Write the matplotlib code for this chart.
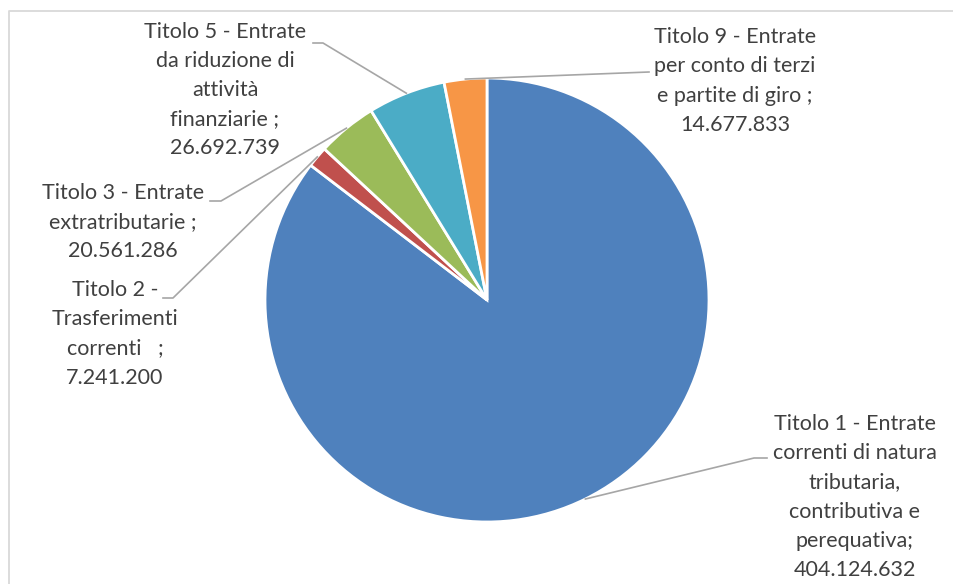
import matplotlib
matplotlib.use("Agg")
import matplotlib.pyplot as plt
import numpy as np

# Dati (Entrate per titolo)
titoli = [
    "Titolo 1 - Entrate\ncorrenti di natura\ntributaria,\ncontributiva e\nperequativa;",
    "Titolo 2 -\nTrasferimenti\ncorrenti   ;",
    "Titolo 3 - Entrate\nextratributarie ;",
    "Titolo 5 - Entrate\nda riduzione di\nattività\nfinanziarie ;",
    "Titolo 9 - Entrate\nper conto di terzi\ne partite di giro ;",
]
valori = [404124632, 7241200, 20561286, 26692739, 14677833]
colori = ["#4F81BD", "#C0504D", "#9BBB59", "#4BACC6", "#F79646"]

W, H = 954, 584
plt.rcParams['font.family'] = ['Lato', 'DejaVu Sans']

fig = plt.figure(figsize=(W / 100, H / 100), dpi=100)
ax = fig.add_axes([0, 0, 1, 1])

cx, cy, r = 487, H - 300, 222
wedges, _ = ax.pie(valori, colors=colori, startangle=90, counterclock=False,
                   center=(cx, cy), radius=r,
                   wedgeprops=dict(edgecolor="white", linewidth=2))

ax.set_xlim(0, W)
ax.set_ylim(0, H)
ax.set_aspect("auto")
ax.axis("off")

# bordo del grafico
ax.plot([W + 5, 9, 9], [H - 11, H - 11, -5], color="#D9D9D9", lw=1.3,
        clip_on=False)

# posizioni etichette (centro testo) e gomito della linea guida (pixel)
pos_testo = [(855, 497), (115, 334), (123, 222), (225, 90), (735, 81)]
gomito = [[(754, 458), (767, 458)],
          [(173, 298), (163, 298)],
          [(221, 201), (210, 201)],
          [(323, 43), (313, 43)],
          [(649, 72)]]

for w, nome, v, (tx, ty), g in zip(wedges, titoli, valori, pos_testo, gomito):
    th = np.deg2rad((w.theta1 + w.theta2) / 2)
    px, py = cx + r * np.cos(th), cy + r * np.sin(th)
    xs = [px] + [p[0] for p in g]
    ys = [py] + [H - p[1] for p in g]
    ax.plot(xs, ys, color="#A6A6A6", lw=1.2)
    testo = nome + "\n" + f"{v:,}".replace(",", ".")
    ax.text(tx, H - ty, testo, ha="center", va="center", fontsize=15.5,
            color="#404040", linespacing=1.57)

fig.savefig("out.png", dpi=100)
